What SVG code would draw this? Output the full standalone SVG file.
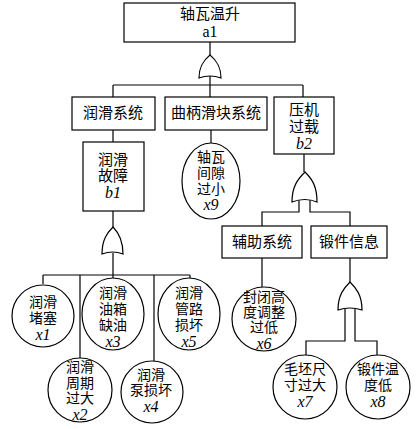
<svg xmlns="http://www.w3.org/2000/svg" width="419" height="429" viewBox="0 0 419 429">
<style>
.box{fill:#fff;stroke:#000;stroke-width:1.2}
.ev{fill:#fff;stroke:#000;stroke-width:1.2}
.gate{fill:#fff;stroke:#000;stroke-width:1.2}
.ln{fill:none;stroke:#000;stroke-width:1.2}
text{font-family:'Liberation Serif','Noto Sans CJK SC',serif;font-size:15px;fill:#000;text-anchor:middle;dominant-baseline:central}
.s{font-size:14px}
.i{font-style:italic;font-size:16px}
.l{font-size:16px}
</style>
<rect width="419" height="429" fill="#fff"/>
<g id="connectors">
<path class="ln" d="M210,42V55M210,76V85M113,85H303M113,85V97M210,85V97M303,85V97"/>
<path class="ln" d="M113,130V142M113,211V227M113,253V275M43,275H190M43,275V284M80,275V358M113,275V278M154,275V361M190,275V278"/>
<path class="ln" d="M211,130V143"/>
<path class="ln" d="M304,154V172M299,200V212H262V226M310,200V212H350V226"/>
<path class="ln" d="M262,258V287M350,258V282M345,309V341H306V355M355,309V341H377V355"/>
</g>
<g id="gates">
<path class="gate" d="M199,78C199,66 204,60 210,55C216,60 221,66 221,78Q210,74 199,78Z"/>
<path class="gate" d="M102,254C102,240 107,233 113,227C119,233 123,240 123,254Q113,250 102,254Z"/>
<path class="gate" d="M292,202C292,186 298,179 305,172C312,179 317,186 317,202Q305,197 292,202Z"/>
<path class="gate" d="M338,310C338,295 344,288 350,282C356,288 362,295 362,310Q350,306 338,310Z"/>
</g>
<g id="a1"><rect class="box" x="124" y="3" width="171" height="39"/><text x="210" y="14">轴瓦温升</text><text class="l" x="210" y="31">a1</text></g>
<g id="runhua"><rect class="box" x="72" y="97" width="83" height="33"/><text x="113" y="113">润滑系统</text></g>
<g id="qubing"><rect class="box" x="165" y="97" width="102" height="33"/><text x="216" y="113">曲柄滑块系统</text></g>
<g id="b2"><rect class="box" x="274" y="97" width="60" height="57"/><text x="304" y="110">压机</text><text x="304" y="127">过载</text><text x="304" y="143" class="i">b2</text></g>
<g id="b1"><rect class="box" x="83" y="142" width="61" height="69"/><text x="113" y="160">润滑</text><text x="113" y="176">故障</text><text x="113" y="192" class="i">b1</text></g>
<g id="x9"><ellipse class="ev" cx="211" cy="181" rx="29" ry="38"/><text class="s" x="211" y="157">轴瓦</text><text class="s" x="211" y="173">间隙</text><text class="s" x="211" y="189">过小</text><text class="i" x="211" y="204">x9</text></g>
<g id="fuzhu"><rect class="box" x="222" y="226" width="80" height="32"/><text x="262" y="242">辅助系统</text></g>
<g id="duanjian"><rect class="box" x="311" y="226" width="76" height="32"/><text x="349" y="242">锻件信息</text></g>
<g id="x1"><circle class="ev" cx="43" cy="316" r="31"/><text class="s" x="43" y="302">润滑</text><text class="s" x="43" y="318">堵塞</text><text class="i" x="43" y="334">x1</text></g>
<g id="x3"><ellipse class="ev" cx="113" cy="314" rx="31" ry="36"/><text class="s" x="113" y="293">润滑</text><text class="s" x="113" y="309">油箱</text><text class="s" x="113" y="325">缺油</text><text class="i" x="113" y="341">x3</text></g>
<g id="x5"><ellipse class="ev" cx="189" cy="314" rx="31" ry="36"/><text class="s" x="189" y="293">润滑</text><text class="s" x="189" y="309">管路</text><text class="s" x="189" y="325">损坏</text><text class="i" x="189" y="341">x5</text></g>
<g id="x2"><circle class="ev" cx="80" cy="390" r="32"/><text class="s" x="80" y="367">润滑</text><text class="s" x="80" y="383">周期</text><text class="s" x="80" y="398">过大</text><text class="i" x="80" y="414">x2</text></g>
<g id="x4"><circle class="ev" cx="152" cy="392" r="31"/><text class="s" x="151" y="375">润滑</text><text class="s" x="151" y="390">泵损坏</text><text class="i" x="151" y="406">x4</text></g>
<g id="x6"><circle class="ev" cx="264" cy="319" r="32"/><text class="s" x="264" y="297">封闭高</text><text class="s" x="264" y="312">度调整</text><text class="s" x="264" y="327">过低</text><text class="i" x="264" y="343">x6</text></g>
<g id="x7"><circle class="ev" cx="305" cy="387" r="32"/><text class="s" x="305" y="369">毛坯尺</text><text class="s" x="305" y="385">寸过大</text><text class="i" x="305" y="401">x7</text></g>
<g id="x8"><circle class="ev" cx="378" cy="387" r="32"/><text class="s" x="378" y="369">锻件温</text><text class="s" x="378" y="385">度低</text><text class="i" x="378" y="401">x8</text></g>
</svg>
